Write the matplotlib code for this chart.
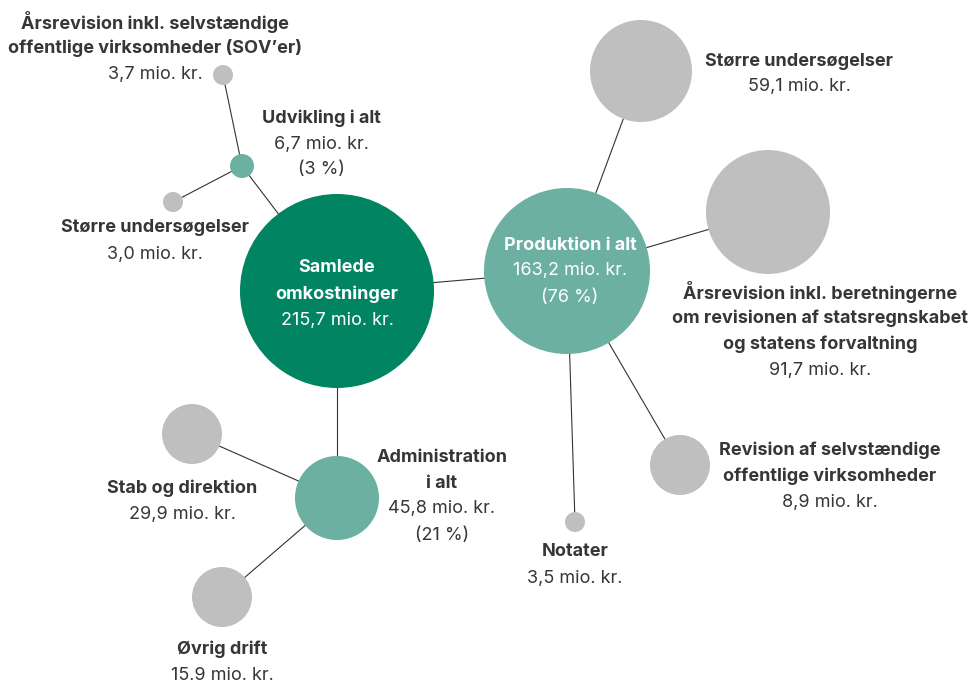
import matplotlib.pyplot as plt
from matplotlib.patches import Circle

plt.rcParams['font.family'] = ['Inter', 'DejaVu Sans']

# Data: nodes, values (mio. kr.), parent node, share of total
nodes = ['Samlede\nomkostninger', 'Produktion i alt', 'Administration\ni alt', 'Udvikling i alt',
         'Større undersøgelser', 'Årsrevision inkl. beretningerne\nom revisionen af statsregnskabet\nog statens forvaltning',
         'Revision af selvstændige\noffentlige virksomheder', 'Notater',
         'Stab og direktion', 'Øvrig drift',
         'Årsrevision inkl. selvstændige\noffentlige virksomheder (SOV’er)', 'Større undersøgelser']
values = [215.7, 163.2, 45.8, 6.7, 59.1, 91.7, 8.9, 3.5, 29.9, 15.9, 3.7, 3.0]
parents = [None, 0, 0, 0, 1, 1, 1, 1, 2, 2, 3, 3]
shares = [None, 76, 21, 3, None, None, None, None, None, None, None, None]

# Layout (pixel space): centre, radius, label anchor
pos = [(337, 291), (567, 271), (337, 498), (242, 166),
       (641, 71), (768, 212), (680, 465), (575, 522),
       (192, 434), (222, 597), (223, 75), (173, 202)]
radius = [97, 83, 42, 12, 51, 62, 30, 10, 30, 30, 10, 10]
label_pos = [(337, 268), (570, 245), (442, 457), (321, 118),
             (799, 61), (820, 292), (830, 450), (575, 552),
             (182, 488), (222, 649), (155, 22), (155, 228)]
level_color = {0: '#008462', 1: '#6bb0a0', 2: '#bfbfbf'}
text_color = '#363636'
line_h = 26


def level(i):
    if parents[i] is None:
        return 0
    return level(parents[i]) + 1


def fmt(v, name):
    s = f'{v:.1f}'
    if name != 'Øvrig drift':
        s = s.replace('.', ',')
    return s + ' mio. kr.'


fig = plt.figure(figsize=(9.68, 6.82), dpi=100)
ax = fig.add_axes([0, 0, 1, 1])
ax.set_xlim(0, 968)
ax.set_ylim(682, 0)
ax.set_aspect('equal')
ax.axis('off')

for i, p in enumerate(parents):
    if p is not None:
        ax.plot([pos[p][0], pos[i][0]], [pos[p][1], pos[i][1]], color='#333333', lw=0.8, zorder=1)

for i in range(len(nodes)):
    lv = level(i)
    ax.add_patch(Circle(pos[i], radius[i], color=level_color[lv], lw=0, zorder=2))
    col = 'white' if i in (0, 1) else text_color
    x, y = label_pos[i]
    lines = [(t, 'bold') for t in nodes[i].split('\n')]
    lines.append((fmt(values[i], nodes[i]), 'normal'))
    if shares[i] is not None:
        lines.append((f'({shares[i]} %)', 'normal'))
    for k, (t, w) in enumerate(lines):
        ax.text(x, y + k * line_h, t, ha='center', va='center', fontsize=13,
                fontweight=w, color=col, zorder=3)

fig.savefig('out.png', dpi=100, facecolor='white')
